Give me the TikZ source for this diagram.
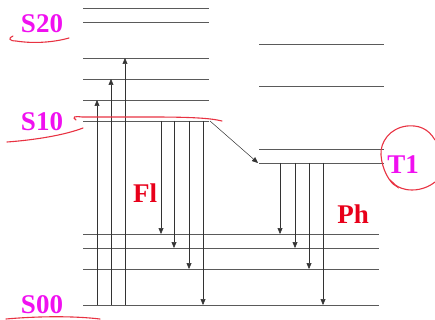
\documentclass[tikz,border=0pt]{standalone}
\usepackage{fontspec}
\setmainfont{Liberation Serif}
\usepackage{xcolor}
\usetikzlibrary{arrows.meta,positioning,calc}
\definecolor{statepink}{HTML}{F010F0}
\definecolor{emitred}{HTML}{E8001A}
\definecolor{penred}{HTML}{E83242}
\definecolor{levelgray}{HTML}{5A5A5A}
\tikzset{
  level/.style={draw=levelgray, line width=0.6pt},
  absorb/.style={draw=black!80, line width=0.5pt, -{Triangle[length=6pt,width=5pt]}},
  emit/.style={draw=black!80, line width=0.5pt, -{Triangle[length=6pt,width=5pt]}},
  statelabel/.style={text=statepink, font=\bfseries\fontsize{27}{27}\selectfont, inner sep=0pt},
  ratelabel/.style={text=emitred, font=\bfseries\fontsize{27}{27}\selectfont, inner sep=0pt},
  penmark/.style={draw=penred, line width=1.1pt, line cap=round}
}
\begin{document}
\begin{tikzpicture}[x=1pt,y=-1pt]
  \useasboundingbox (0,0) rectangle (435,320);
  % singlet levels
  \foreach \y/\n in {8/s25,22/s20,58/s13,79/s12,100/s11,121/s10}
    \draw[level] (83,\y) coordinate (\n) -- (209,\y);
  % triplet levels
  \foreach \y/\n in {44/t3,86/t2,149/t11,163/t1}
    \draw[level] (259,\y) coordinate (\n) -- (384,\y);
  % ground levels
  \foreach \y/\n in {234/g3,248/g2,269/g1,305/s00}
    \draw[level] (83,\y) coordinate (\n) -- (379,\y);

  % absorption
  \foreach \x/\lev in {97/s11,111/s12,125/s13}
    \draw[absorb] (\x,0 |- s00) -- (\x,0 |- \lev);
  % fluorescence
  \foreach \x/\lev in {161/g3,174/g2,189/g1,203/s00}
    \draw[emit] (\x,0 |- s10) -- (\x,0 |- \lev);
  % intersystem crossing
  \coordinate (isc) at (210,121);
  \draw[emit] (isc) -- (258,0 |- t1);
  % phosphorescence
  \foreach \x/\lev in {280/g3,295/g2,309/g1,323/s00}
    \draw[emit] (\x,0 |- t1) -- (\x,0 |- \lev);

  % labels
  \node[statelabel] (lS20) at (42,24) {S20};
  \node[statelabel] (lS10) at (42,122) {S10};
  \node[statelabel] (lS00) at (42,305) {S00};
  \node[statelabel] (lT1) at (403,165) {T1};
  \node[ratelabel] (lFl) at (145,193) {Fl};
  \node[ratelabel] (lPh) at (353,214) {Ph};

  % pen marks
  \draw[penmark] (13,36) .. controls (8,38) and (9,41) .. (16,41)
    .. controls (35,44) and (55,42) .. (69,38);
  \draw[penmark] (7,142) .. controls (35,140) and (65,135) .. (83,128);
  \draw[penmark] (76,120) .. controls (72,117) and (74,116) .. (82,117)
    -- (150,117) .. controls (190,117) and (210,118) .. (222,121);
  \draw[penmark] (6,319) .. controls (40,316) and (75,316) .. (100,319);
  \draw[penmark] (435,140) .. controls (428,128) and (418,125) .. (407,126)
    .. controls (390,128) and (380,142) .. (381,155)
    .. controls (382,170) and (390,183) .. (396,186)
    .. controls (390,178) and (395,190) .. (412,190)
    .. controls (422,190) and (430,186) .. (435,182);
\end{tikzpicture}
\end{document}
